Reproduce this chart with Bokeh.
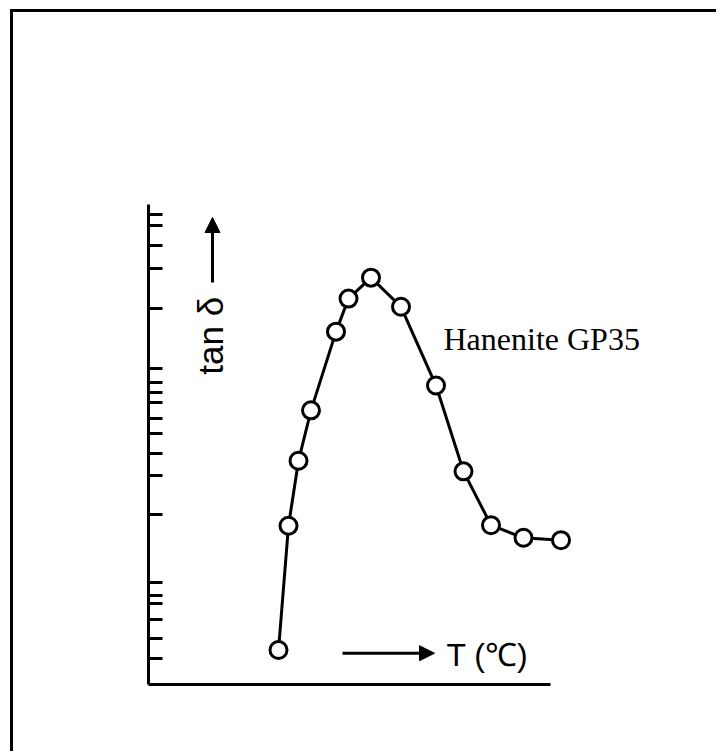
import math
from bokeh.plotting import figure
from bokeh.models import (Range1d, FixedTicker, CustomJSTickFormatter, Arrow, NormalHead,
                          InlineStyleSheet)
from bokeh.core.properties import value
from bokeh.embed import file_html
from bokeh.resources import INLINE

# ---- data ----
temperature_c = [-34.0, -32.0, -30.0, -27.5, -22.5, -20.0, -15.5, -9.5, -2.5, 3.0, 8.5, 15.0, 22.5]
tan_delta = [0.0044, 0.0175, 0.036, 0.063, 0.151, 0.218, 0.275, 0.199, 0.083, 0.032, 0.0176, 0.0153, 0.0149]
y_tick_values = [0.555, 0.491, 0.393, 0.304, 0.195,
                 0.1, 0.0856, 0.0766, 0.0685, 0.0574, 0.0485, 0.0389, 0.0304, 0.0199,
                 0.00935, 0.0081, 0.0074, 0.0062, 0.0050, 0.0040]
series_label = "Hanenite GP35"
y_label = "tan δ"
x_label = "T (℃)"

W, H = 716, 751

p = figure(width=W, height=H, output_backend="svg", toolbar_location=None,
           y_axis_type="log",
           x_range=Range1d(-60, 50.4), y_range=Range1d(0.003, 1.8),
           min_border_left=148, min_border_right=16,
           min_border_top=108, min_border_bottom=67)
p.stylesheets = [InlineStyleSheet(css=(
    ":host::before { content: ''; position: absolute; left: 10px; top: 9px; "
    "right: 0px; bottom: 0px; border-top: 3px solid black; border-left: 3px solid black; "
    "z-index: 1000; pointer-events: none; box-sizing: border-box; }"))]
p.outline_line_color = None
p.xgrid.visible = False
p.ygrid.visible = False
p.background_fill_color = "white"
p.border_fill_color = "white"

blank = CustomJSTickFormatter(code="return ''")

ya = p.yaxis[0]
ya.ticker = FixedTicker(ticks=y_tick_values, minor_ticks=[])
ya.formatter = blank
ya.axis_line_width = 3
ya.axis_line_color = "black"
ya.major_tick_line_width = 3
ya.major_tick_line_color = "black"
ya.major_tick_in = 14
ya.major_tick_out = 0
ya.minor_tick_line_color = None
ya.bounds = (0.003, 0.62)

xa = p.xaxis[0]
xa.ticker = FixedTicker(ticks=[], minor_ticks=[])
xa.formatter = blank
xa.axis_line_width = 3
xa.axis_line_color = "black"
xa.major_tick_line_color = None
xa.minor_tick_line_color = None
xa.bounds = (-60, 20.4)

# curve and markers
p.line(temperature_c, tan_delta, line_color="black", line_width=3)
p.scatter(temperature_c, tan_delta, size=17, fill_color="white",
          line_color="black", line_width=3)

# texts
p.text(x=[-1.0], y=[0.1396], text=[series_label], text_font=value("Liberation Serif"),
       text_font_size="32px", text_align="left", text_baseline="middle", text_color="black")
p.text(x=[-47.6], y=[0.1443], text=[y_label], angle=math.pi / 2,
       text_font=value("Liberation Sans"), text_font_size="35px",
       text_align="center", text_baseline="middle", text_color="black")
p.text(x=[-0.4], y=[0.00415], text=[x_label], text_font=value("Liberation Sans"),
       text_font_size="32px", text_align="left", text_baseline="middle", text_color="black")

# arrows
p.add_layout(Arrow(end=NormalHead(size=15, fill_color="black", line_color="black", line_width=1),
                   x_start=-47.2, y_start=0.2603, x_end=-47.2, y_end=0.5364,
                   line_width=3, line_color="black"))
p.add_layout(Arrow(end=NormalHead(size=15, fill_color="black", line_color="black", line_width=1),
                   x_start=-21.2, y_start=0.004246, x_end=-2.8, y_end=0.004246,
                   line_width=3, line_color="black"))

open("out.html", "w").write(file_html(p, INLINE))
